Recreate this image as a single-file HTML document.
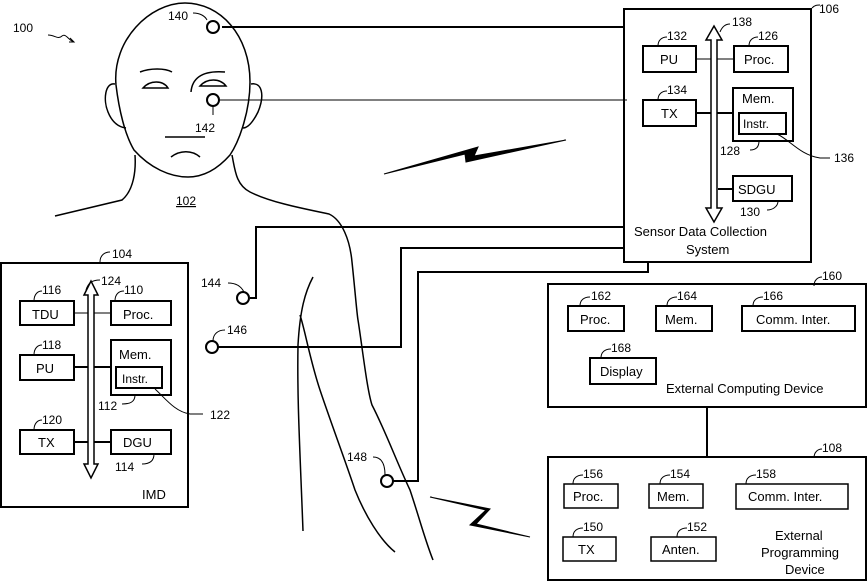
<!DOCTYPE html>
<html><head><meta charset="utf-8"><style>
html,body{margin:0;padding:0;background:#fff;}
svg{display:block;font-family:"Liberation Sans",sans-serif;}
text{font-size:13px;fill:#000;}
.s{font-size:12px;}
</style></head><body>
<svg width="867" height="581" viewBox="0 0 867 581" xmlns="http://www.w3.org/2000/svg">
<g fill="none" stroke="#000" stroke-width="2">
<!-- head -->
<path d="M116,85 C112,40 150,3 185,3 C220,3 250,35 250,82 C250,110 240,140 230,155 C215,172 200,177 188,177 C170,177 150,168 134,150 C125,135 119,110 116,85" stroke-width="1.5"/>
<path d="M115,84 C105,82 103,100 108,112 C112,122 118,127 126,128" stroke-width="1.5"/>
<path d="M251,84 C262,82 265,95 258,112 C253,122 248,128 243,128" stroke-width="1.5"/>
<g stroke-width="1.5">
<path d="M140,72 C150,68 165,68 172,72"/><path d="M191,92 C192,80 200,70 225,72"/>
<path d="M143,88 C150,80 163,80 168,88 Z"/><path d="M200,86 C207,78 220,78 226,86 Z"/>
<path d="M165,137 L205,137"/><path d="M171,157 C180,150 192,150 200,157"/>
<path d="M135,155 C136,170 134,190 122,200 L55,216"/>
<path d="M232,155 C235,170 236,185 250,192 C270,202 300,208 329,214 C342,220 350,240 352,262 C355,290 357,315 358,320 C362,345 367,390 372,405 C385,430 398,465 410,490 C420,520 425,540 433,560"/>
<path d="M313,277 C305,292 300,310 298,345 C297,400 300,450 303,531"/>
<path d="M300,315 C305,330 310,360 320,390 C330,420 345,460 355,490 C365,515 380,540 395,552"/>
</g>
<!-- wires -->
<path d="M222,27 L624,27"/><path d="M218,100 L627,100" stroke-width="1"/>
<path d="M250,298 L256,298 L256,227 L624,227"/>
<path d="M218,347 L401,347 L401,248 L624,248"/>
<path d="M393,481 L418,481 L418,272 L648,272 L648,262"/>
<circle cx="213" cy="27" r="6"/><circle cx="213" cy="100" r="6"/>
<path d="M213,106 L213,115" stroke-width="1"/>
<circle cx="243" cy="298" r="6"/><circle cx="212" cy="347" r="6"/><circle cx="387" cy="481" r="6"/>
<!-- lightning -->
<path d="M384,174 L465,154 L466,162 L566,140 L474,156 L478,147 Z" fill="#000" stroke-width="1"/>
<path d="M430,497 L486,510 L470,525 L530,537 L476,524 L490,509 Z" fill="#000" stroke-width="1"/>
<!-- sensor box -->
<rect x="624" y="9" width="187" height="253"/>
<rect x="643" y="46" width="53" height="26"/><rect x="734" y="46" width="54" height="26"/>
<rect x="643" y="100" width="53" height="26"/><rect x="733" y="88" width="60" height="53"/>
<rect x="739" y="113" width="47" height="21"/><rect x="733" y="176" width="59" height="25"/>
<path d="M696,59 L734,59" stroke-width="1"/><path d="M696,113 L733,113"/><path d="M718,189 L733,189"/>
<path d="M711,40 L711,208 L706,208 L714,222 L722,208 L717,208 L717,40 L722,40 L714,26 L706,40 Z" fill="#fff" stroke-width="1.5"/>
<path d="M777,134 C790,140 800,155 820,158 L830,158" stroke-width="1"/>
<path d="M812,8 C815,5 817,5 820,5" stroke-width="1"/>
<!-- IMD -->
<rect x="1" y="263" width="187" height="244"/>
<rect x="20" y="301" width="54" height="24"/><rect x="111" y="301" width="60" height="24"/>
<rect x="20" y="355" width="54" height="25"/><rect x="111" y="340" width="60" height="55"/>
<rect x="116" y="367" width="46" height="21"/>
<rect x="20" y="430" width="54" height="24"/><rect x="111" y="430" width="60" height="24"/>
<path d="M74,313 L111,313" stroke-width="1"/><path d="M74,367 L111,367"/><path d="M74,442 L111,442"/>
<path d="M88,295 L88,464 L84,464 L91,478 L98,464 L94,464 L94,295 L98,295 L91,281 L84,295 Z" fill="#fff" stroke-width="1.5"/>
<path d="M155,389 C165,398 175,412 190,414 L203,414" stroke-width="1"/>
<!-- external computing -->
<rect x="548" y="284" width="318" height="123"/>
<rect x="568" y="306" width="56" height="25"/><rect x="656" y="306" width="56" height="25"/>
<rect x="742" y="306" width="113" height="25"/><rect x="590" y="358" width="66" height="26"/>
<path d="M707,407 L707,457"/>
<rect x="548" y="457" width="318" height="123"/>
<rect x="564" y="484" width="54" height="24" stroke-width="1.5"/><rect x="649" y="484" width="54" height="24" stroke-width="1.5"/>
<rect x="736" y="484" width="112" height="25" stroke-width="1.5"/><rect x="563" y="537" width="53" height="24" stroke-width="1.5"/>
<rect x="651" y="537" width="65" height="24" stroke-width="1.5"/>
</g>
<g fill="none" stroke="#000" stroke-width="1">
<path d="M48,35 C55,35 58,40 62,36 C66,33 68,40 74,42"/><path d="M70,38 L74,42 L69,42"/>
<path d="M193,13 C200,13 205,16 207,20"/>
<path d="M34,301 C34,294 38,291 42,291"/><path d="M115,301 C115,294 119,291 124,291"/><path d="M86,290 C88,283 92,280 100,280"/>
<path d="M34,355 C34,348 38,345 42,345"/><path d="M34,430 C34,423 38,420 42,420"/>
<path d="M135,395 C135,402 130,404 122,404"/><path d="M154,454 C154,461 150,464 142,464"/>
<path d="M100,262 C100,255 105,252 110,252"/>
<path d="M228,283 C238,283 242,288 244,292"/><path d="M213,341 C213,334 218,330 225,330"/><path d="M373,457 C380,457 385,462 385,475"/>
<path d="M658,46 C658,40 662,37 667,37"/><path d="M749,46 C749,40 753,37 758,37"/><path d="M658,100 C658,94 662,91 667,91"/>
<path d="M759,141 C759,148 755,150 750,150"/><path d="M778,201 C778,207 772,210 767,210"/><path d="M720,32 C722,27 725,24 730,24"/>
<path d="M580,306 C580,300 584,297 590,297"/><path d="M667,306 C667,300 671,297 677,297"/><path d="M753,306 C753,300 757,297 763,297"/>
<path d="M601,358 C601,352 605,349 611,349"/><path d="M814,286 C814,280 818,277 822,277"/><path d="M814,458 C814,452 818,449 822,449"/>
<path d="M573,484 C573,478 577,475 583,475"/><path d="M660,484 C660,478 664,475 670,475"/><path d="M746,484 C746,478 750,475 756,475"/>
<path d="M573,537 C573,531 577,528 583,528"/><path d="M677,537 C677,531 681,528 687,528"/>
</g>
<text x="13" y="32" class="s">100</text>
<text x="168" y="20" class="s">140</text>
<text x="195" y="132" class="s">142</text>
<text x="176" y="205" class="s" text-decoration="underline">102</text>
<text x="112" y="258" class="s">104</text>
<text x="101" y="285" class="s">124</text>
<text x="42" y="294" class="s">116</text><text x="124" y="294" class="s">110</text>
<text x="32" y="319">TDU</text><text x="123" y="319">Proc.</text>
<text x="42" y="349" class="s">118</text><text x="119" y="359">Mem.</text>
<text x="36" y="373">PU</text><text x="122" y="383" class="s">Instr.</text>
<text x="98" y="410" class="s">112</text><text x="210" y="419" class="s">122</text>
<text x="42" y="424" class="s">120</text>
<text x="38" y="447">TX</text><text x="123" y="447">DGU</text>
<text x="115" y="471" class="s">114</text><text x="142" y="499">IMD</text>
<text x="201" y="287" class="s">144</text><text x="227" y="334" class="s">146</text><text x="347" y="461" class="s">148</text>
<text x="819" y="13" class="s">106</text><text x="732" y="26" class="s">138</text>
<text x="667" y="40" class="s">132</text><text x="758" y="40" class="s">126</text>
<text x="660" y="64">PU</text><text x="744" y="64">Proc.</text>
<text x="667" y="94" class="s">134</text><text x="742" y="103">Mem.</text>
<text x="661" y="118">TX</text><text x="743" y="128" class="s">Instr.</text>
<text x="720" y="155" class="s">128</text><text x="834" y="162" class="s">136</text>
<text x="738" y="194">SDGU</text><text x="740" y="216" class="s">130</text>
<text x="634" y="236">Sensor Data Collection</text><text x="686" y="254">System</text>
<text x="822" y="280" class="s">160</text>
<text x="591" y="300" class="s">162</text><text x="677" y="300" class="s">164</text><text x="763" y="300" class="s">166</text>
<text x="580" y="324">Proc.</text><text x="665" y="324">Mem.</text><text x="756" y="324">Comm. Inter.</text>
<text x="611" y="352" class="s">168</text><text x="600" y="376">Display</text>
<text x="666" y="393">External Computing Device</text>
<text x="822" y="452" class="s">108</text>
<text x="583" y="478" class="s">156</text><text x="670" y="478" class="s">154</text><text x="756" y="478" class="s">158</text>
<text x="573" y="501">Proc.</text><text x="657" y="501">Mem.</text><text x="748" y="501">Comm. Inter.</text>
<text x="583" y="531" class="s">150</text><text x="687" y="531" class="s">152</text>
<text x="578" y="554">TX</text><text x="662" y="554">Anten.</text>
<text x="775" y="540">External</text><text x="761" y="557">Programming</text><text x="785" y="574">Device</text>
</svg>
</body></html>
